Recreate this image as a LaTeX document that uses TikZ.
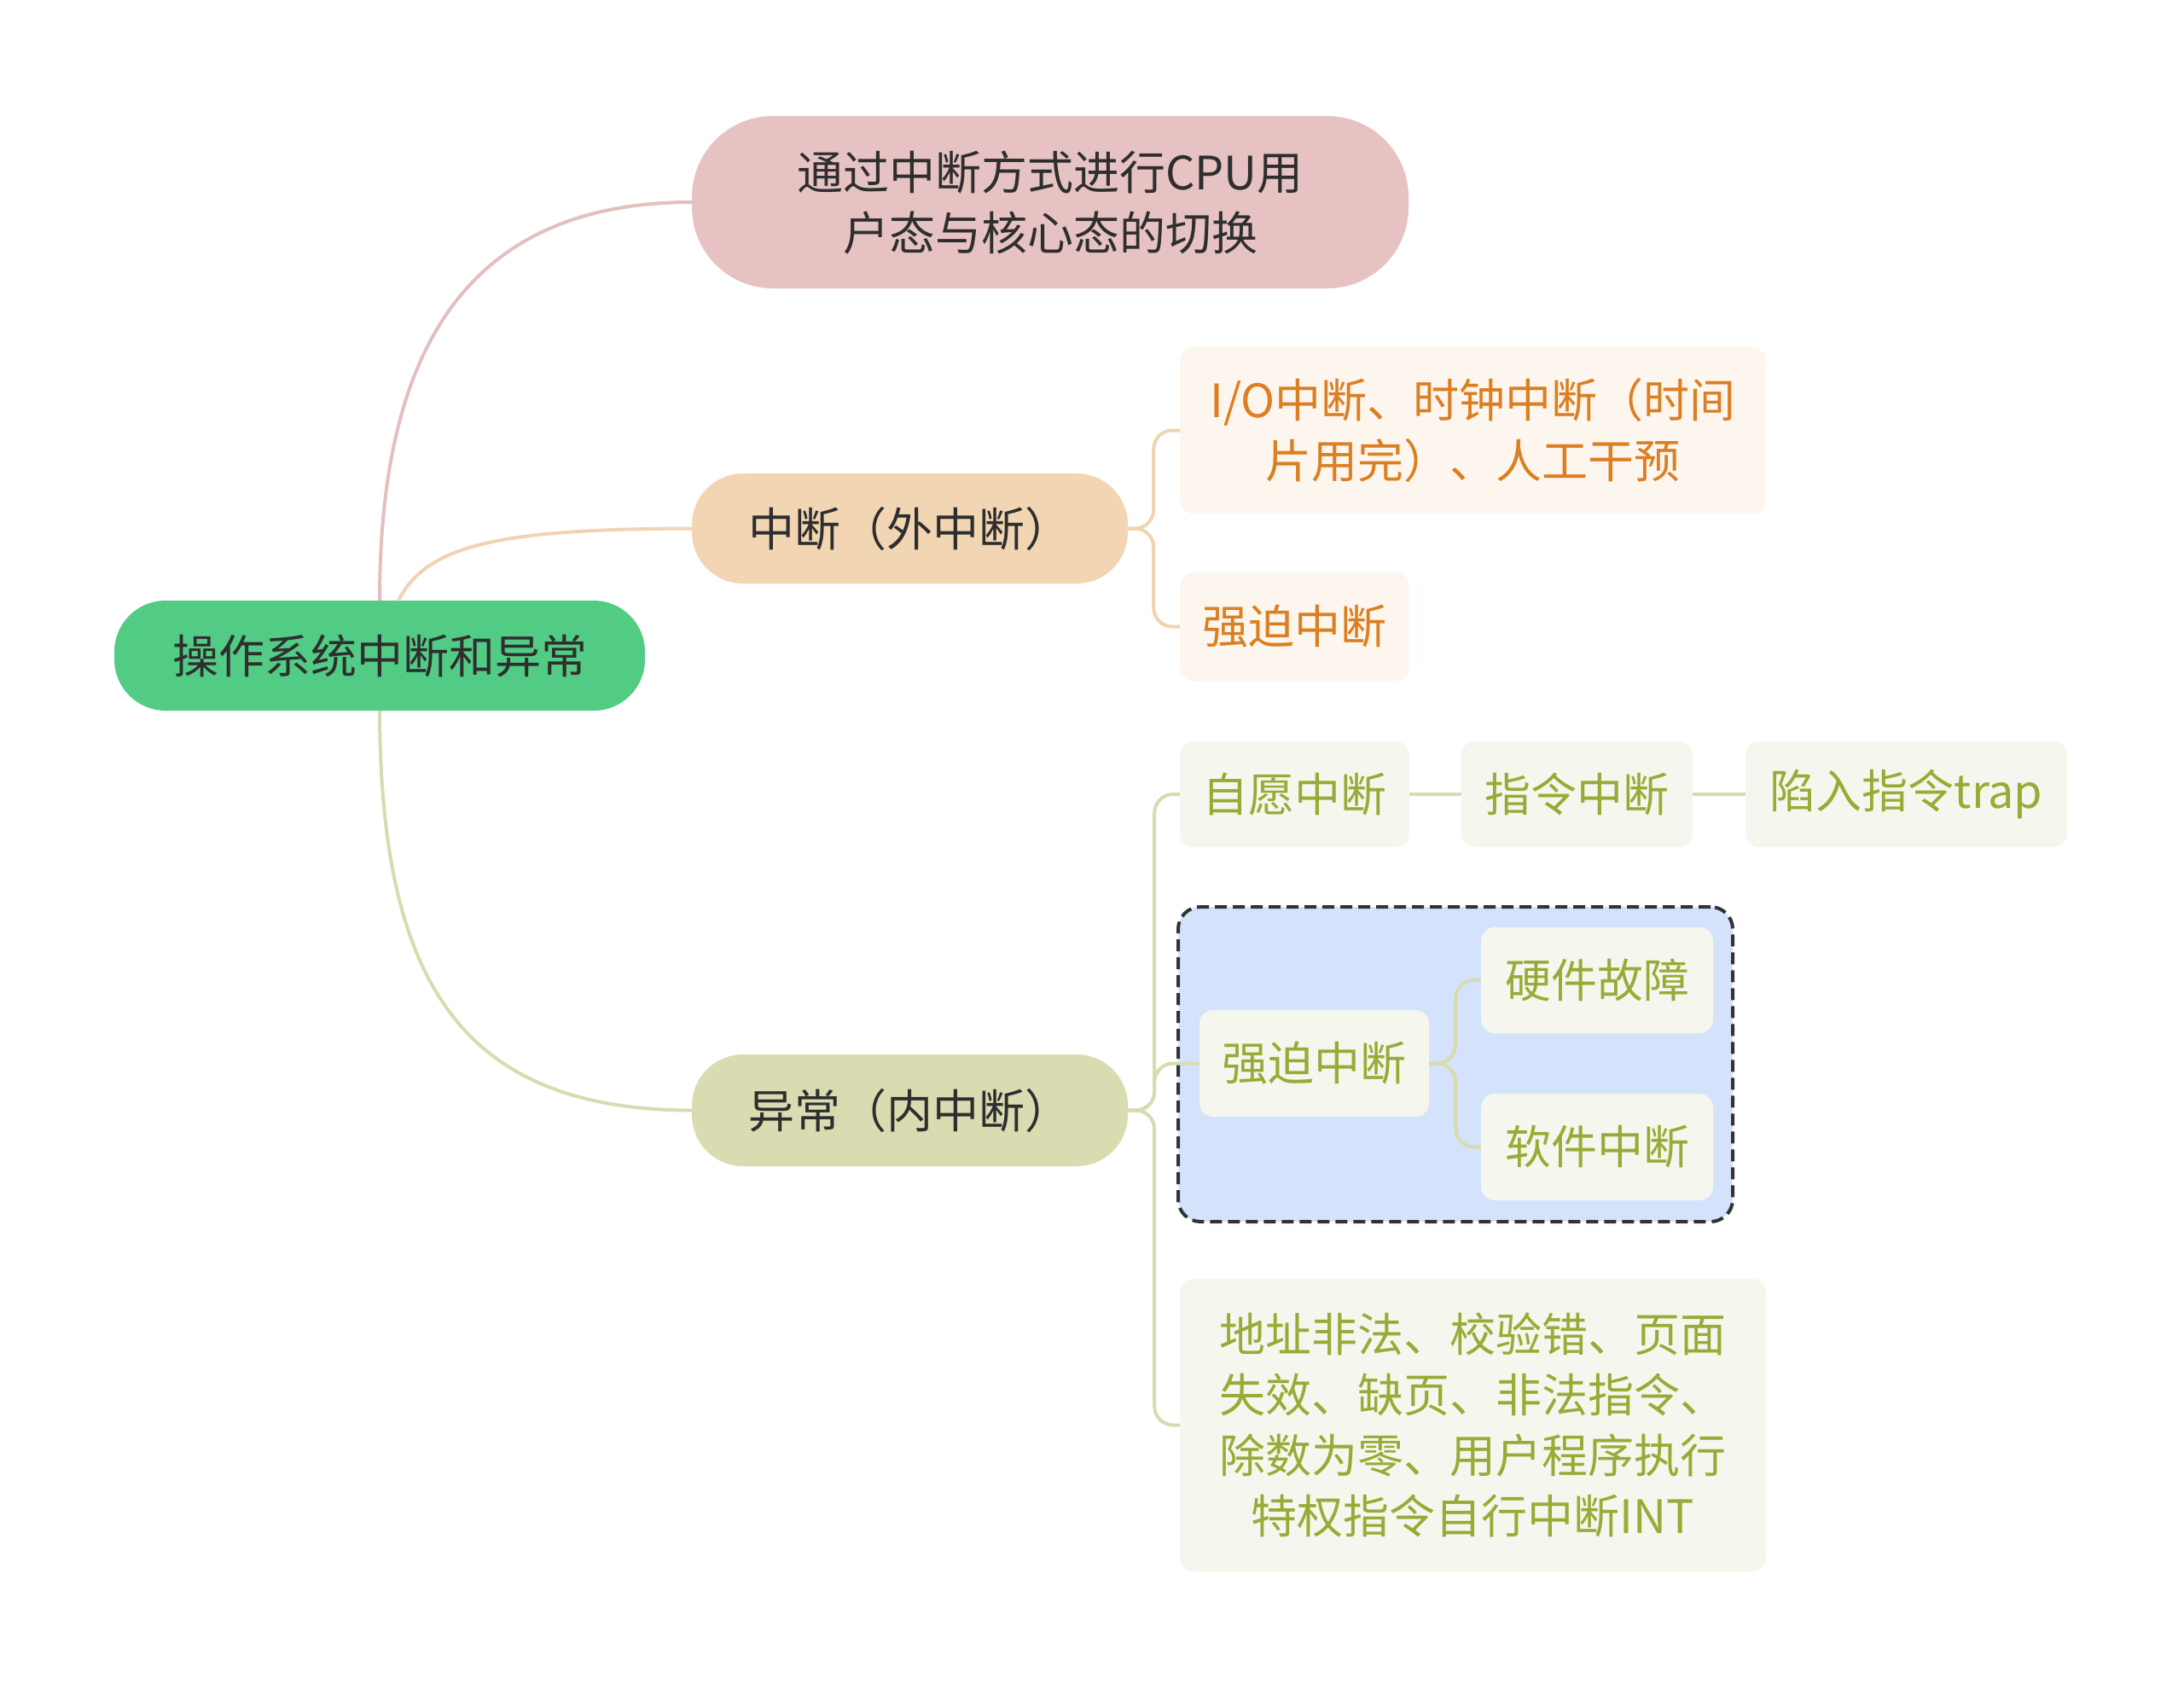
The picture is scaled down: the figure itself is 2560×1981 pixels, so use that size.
\documentclass[tikz,border=0pt]{standalone}
\usepackage{fontspec}
\setmainfont{Noto Sans CJK SC}
\definecolor{txtdark}{HTML}{2E2E2E}
\definecolor{rootfill}{HTML}{52CC85}
\definecolor{pinkfill}{HTML}{E6C3C2}
\definecolor{pinkline}{HTML}{E3C0BF}
\definecolor{peachfill}{HTML}{F2D5B3}
\definecolor{peachline}{HTML}{F0D4B2}
\definecolor{olivefill}{HTML}{D9DCB0}
\definecolor{oliveline}{HTML}{D7DCAF}
\definecolor{orangetxt}{HTML}{DB7F22}
\definecolor{orangebg}{HTML}{FDF6EE}
\definecolor{greentxt}{HTML}{9AAA36}
\definecolor{greenbg}{HTML}{F5F7EE}
\definecolor{grpfill}{HTML}{D4E3FB}
\definecolor{grpline}{HTML}{333333}
\begin{document}
\begin{tikzpicture}[x=1pt,y=-1pt,
  txtfont/.style={font=\fontsize{54}{71}\selectfont},
  mainnode/.style={txtfont, inner sep=0pt, align=center, text=txtdark},
  leafo/.style={txtfont, inner sep=0pt, align=center, text=orangetxt, fill=orangebg, rounded corners=16pt},
  leafg/.style={txtfont, inner sep=0pt, align=center, text=greentxt, fill=greenbg, rounded corners=16pt},
  conn/.style={line width=4pt},
  brace/.style={line width=4pt, rounded corners=22pt}
]
\useasboundingbox (0,0) rectangle (2560,1981);
\fill[white] (0,0) rectangle (2560,1981);

% connectors from root (drawn first)
\coordinate (rootpink) at (445,704);
\coordinate (rootpeach) at (467,704);
\coordinate (rootolive) at (445,833);

% main nodes
\node[mainnode, fill=rootfill, rounded corners=60pt, minimum width=622pt, minimum height=129pt] (root) at (445,768.5) {操作系统中断和异常};
\node[mainnode, fill=pinkfill, rounded corners=95pt, minimum width=840pt, minimum height=202pt] (top) at (1231,237) {通过中断方式进行CPU用\\户态与核心态的切换};
\node[mainnode, fill=peachfill, rounded corners=60pt, minimum width=511pt, minimum height=129pt] (intr) at (1066.5,619.5) {中断（外中断）};
\node[mainnode, fill=olivefill, rounded corners=60pt, minimum width=511pt, minimum height=131pt] (exc) at (1066.5,1301.5) {异常（内中断）};

\draw[conn, pinkline] (root.north) .. controls (445,420) and (540,237) .. (top.west);
\draw[conn, peachline] ([xshift=22pt]root.north) .. controls (500,640) and (580,620) .. (intr.west);
\draw[conn, oliveline] (root.south) .. controls (446,1150) and (540,1301) .. (exc.west);

% interrupt children
\node[leafo, minimum width=687pt, minimum height=195pt] (io) at (1726.5,504.5) {I/O中断、时钟中断（时间\\片用完）、人工干预};
\node[leafo, minimum width=269pt, minimum height=127pt] (force1) at (1517.5,734.5) {强迫中断};
\draw[brace, peachline] (intr.east) -- ++(30,0) |- (io.west);
\draw[brace, peachline] (intr.east) -- ++(30,0) |- (force1.west);

% exception children
\node[leafg, minimum width=269pt, minimum height=124pt] (vol) at (1517.5,931) {自愿中断};
\node[leafg, minimum width=271pt, minimum height=124pt] (instr) at (1848.5,931) {指令中断};
\node[leafg, minimum width=377pt, minimum height=124pt] (trap) at (2234.5,931) {陷入指令trap};

\node[draw=grpline, fill=grpfill, dashed, line width=4pt, dash pattern=on 14pt off 7pt, rounded corners=26pt, minimum width=650pt, minimum height=369pt, inner sep=0pt] (grp) at (1706,1247.5) {};

\node[leafg, minimum width=269pt, minimum height=125pt] (force2) at (1540.5,1246.5) {强迫中断};
\node[leafg, minimum width=272pt, minimum height=124pt] (hw) at (1872,1149) {硬件故障};
\node[leafg, minimum width=272pt, minimum height=125pt] (sw) at (1872,1344.5) {软件中断};

\node[leafg, minimum width=687pt, minimum height=343pt] (big) at (1726.5,1670.5) {地址非法、校验错、页面\\失效、缺页、非法指令、\\除数为零、用户程序执行\\特权指令自行中断INT};

\draw[brace, oliveline] (exc.east) -- ++(31,0) |- (vol.west);
\draw[brace, oliveline] (exc.east) -- ++(31,0) |- (force2.west);
\draw[brace, oliveline] (exc.east) -- ++(31,0) |- (big.west);
\draw[conn, oliveline] (vol.east) -- (instr.west);
\draw[conn, oliveline] (instr.east) -- (trap.west);
\draw[brace, oliveline] (force2.east) -- ++(31,0) |- (hw.west);
\draw[brace, oliveline] (force2.east) -- ++(31,0) |- (sw.west);
\end{tikzpicture}
\end{document}
